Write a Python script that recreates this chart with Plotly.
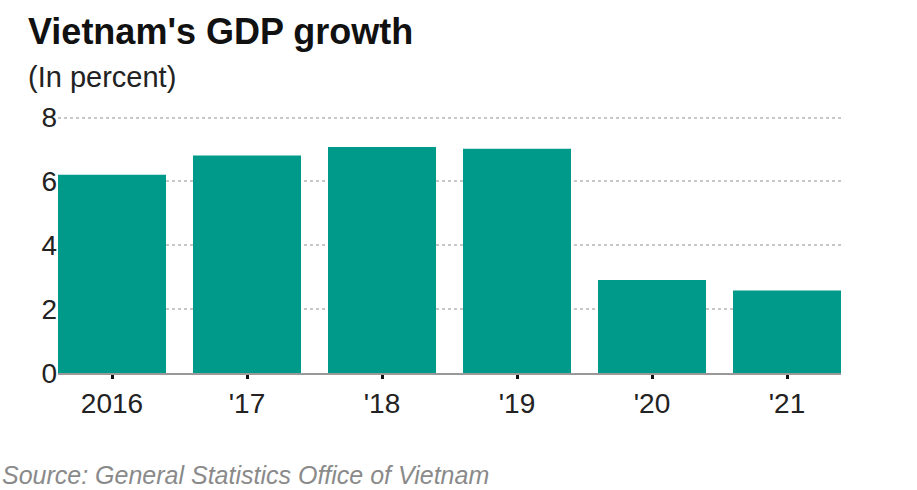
import plotly.graph_objects as go

categories = ["2016", "'17", "'18", "'19", "'20", "'21"]
gdp_growth = [6.21, 6.81, 7.08, 7.02, 2.91, 2.58]
y_ticks = [0, 2, 4, 6, 8]

SANS = "Liberation Sans, Arial, sans-serif"

fig = go.Figure(go.Bar(
    x=categories, y=gdp_growth,
    marker=dict(color="#009A8A", line=dict(width=0)),
    width=0.8, hoverinfo="skip",
))

fig.update_layout(
    width=917, height=490,
    margin=dict(l=58, r=76, t=115, b=117),
    paper_bgcolor="white", plot_bgcolor="white",
    showlegend=False,
    title=dict(text="<b>Vietnam's GDP growth</b>", x=28/917, xanchor="left",
               xref="container", yref="container", y=1-31/490, yanchor="middle",
               font=dict(family=SANS, size=36, color="#111")),
    xaxis=dict(range=[-0.4, 5.4], showline=True, linecolor="#999", linewidth=2,
               ticks="outside", ticklen=4, tickwidth=3, tickcolor="#111",
               tickfont=dict(family=SANS, size=28, color="#222"),
               showgrid=False, zeroline=False, fixedrange=True),
    yaxis=dict(range=[0, 8.08], tickvals=y_ticks, showgrid=True, gridcolor="#C8C8C8",
               griddash="dot", gridwidth=1.5, zeroline=False, showline=False,
               ticks="", tickfont=dict(family=SANS, size=28, color="#222"),
               fixedrange=True),
    annotations=[
        dict(text="(In percent)", xref="paper", yref="paper",
             x=(26-58)/783, y=(373-80)/255, xanchor="left", yanchor="middle",
             showarrow=False, font=dict(family=SANS, size=29, color="#222")),
        dict(text="<i>Source: General Statistics Office of Vietnam</i>", xref="paper", yref="paper",
             x=(0-58)/783, y=(373-474)/255, xanchor="left", yanchor="middle",
             showarrow=False, font=dict(family=SANS, size=25, color="#8A8A8A")),
    ],
)

fig.write_html("out.html")
